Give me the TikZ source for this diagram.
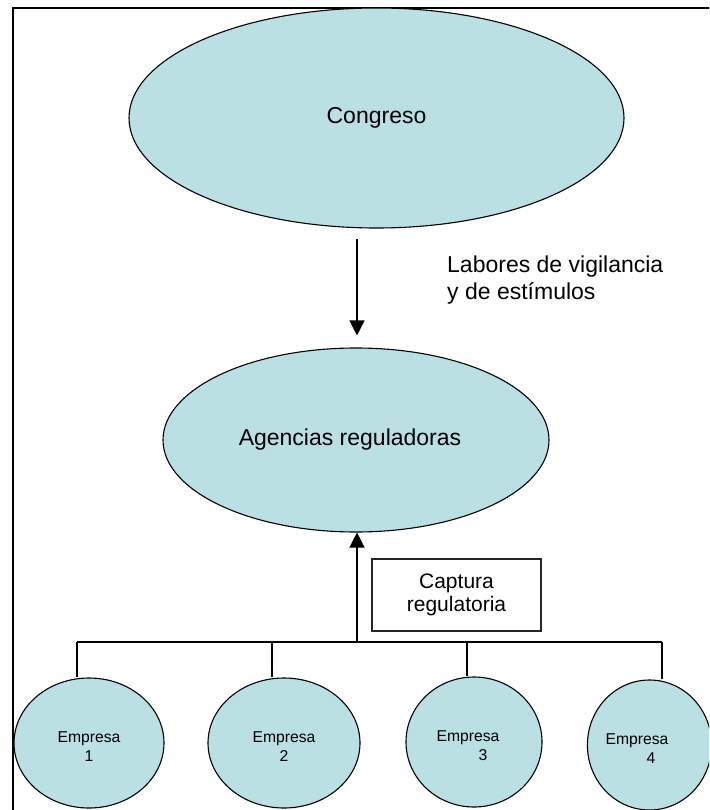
\documentclass[tikz,border=0pt]{standalone}
\usepackage{fontspec}
\setmainfont{Liberation Sans}
\usetikzlibrary{shapes.geometric,arrows.meta}
\definecolor{fillc}{RGB}{186,224,227}
\newcommand{\topfix}{\rule{0pt}{17.5pt}}
\begin{document}
\begin{tikzpicture}[x=1pt,y=-1pt,
  oval/.style={ellipse,draw=black,line width=1.1pt,fill=fillc,inner sep=0pt},
  bigtxt/.style={font=\fontsize{23}{27}\selectfont},
  smalltxt/.style={font=\fontsize{15.7}{19}\selectfont},
  conn/.style={line width=2pt},
  arr/.style={line width=1.3pt,-{Triangle[length=15pt,width=15pt]}}]
\useasboundingbox (0,0) rectangle (709,810);
\clip (0,0) rectangle (709,810);
\fill[white] (0,0) rectangle (709,810);
\draw[line width=1.6pt] (13,8) rectangle (730,830);
% main ovals
\node[oval,bigtxt,minimum width=495,minimum height=220] (cong) at (376.5,118) {Congreso};
\node[oval,bigtxt,minimum width=386,minimum height=184] (ag) at (356,440) {Agencias reguladoras\hspace*{12pt}};
% label
\node[bigtxt,align=left,anchor=north west,inner sep=0pt] (lab) at (447,256) {Labores de vigilancia\\y de estímulos};
% capture box
\node[draw=black!85,line width=1.4pt,minimum width=169,minimum height=72,align=center,inner sep=0pt,font=\fontsize{21}{23}\selectfont] (cap) at (456.5,595) {Captura\\regulatoria};
% firms
\node[oval,smalltxt,align=center,minimum width=150,minimum height=130] (e1) at (89,743) {\topfix Empresa\\1};
\node[oval,smalltxt,align=center,minimum width=152,minimum height=130] (e2) at (284,743) {\topfix Empresa\\2};
\node[oval,smalltxt,align=left,minimum width=136,minimum height=130] (e3) at (474,742) {\topfix Empresa\hspace*{12pt}\\\hspace*{42pt}3};
\node[oval,smalltxt,align=left,minimum width=117,minimum height=130] (e4) at (649.5,745) {\topfix Empresa\hspace*{25pt}\\\hspace*{41pt}4};
% connectors
\coordinate (a1) at (357,239);
\draw[arr,shorten >=12pt] (a1) -- (a1 |- ag.north);
\coordinate (hub) at (357,642);
\draw[arr] (hub) -- (hub |- ag.south);
\coordinate (b1) at (77,642);
\coordinate (b2) at (272,642);
\coordinate (b3) at (467,642);
\coordinate (b4) at (662,642);
\draw[conn] (b1) -- (b4);
\draw[conn] (b1) -- (b1 |- e1.north);
\draw[conn] (b2) -- (b2 |- e2.north);
\draw[conn] (b3) -- (b3 |- e3.north);
\draw[conn] (b4) -- (b4 |- e4.north);
\end{tikzpicture}
\end{document}
